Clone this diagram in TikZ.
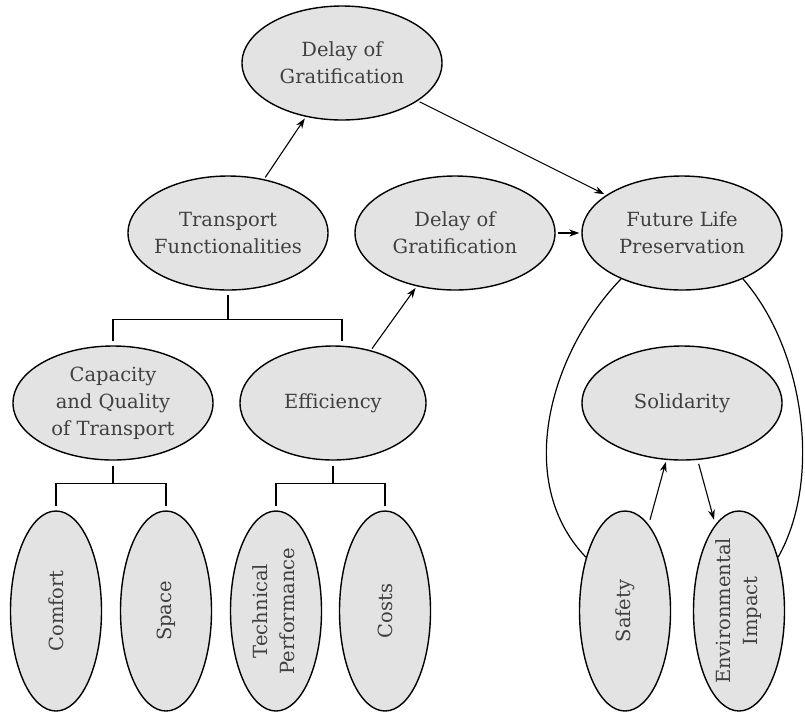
\documentclass[tikz,border=0pt]{standalone}
\usepackage{fontspec}
\setmainfont{DejaVu Serif}
\usetikzlibrary{shapes.geometric,arrows.meta,calc}
\definecolor{elfill}{HTML}{E3E3E3}
\definecolor{txt}{HTML}{404040}
\begin{document}
\begin{tikzpicture}[x=1pt,y=-1pt,
  bigel/.style={ellipse,draw=black,line width=1.4pt,fill=elfill,minimum width=200pt,minimum height=114pt,inner sep=-12pt,align=center,text=txt,font=\fontsize{19.5}{27}\selectfont},
  tallel/.style={bigel,minimum width=91pt,minimum height=200pt},
  arr/.style={-{Stealth[length=10pt,width=7pt]},line width=1.1pt,shorten >=2pt,shorten <=2pt},
  conn/.style={line width=1.2pt}]
\useasboundingbox (0,0) rectangle (805,713);
% top row
\node[bigel] (dg1) at (342,63) {Delay of\\Gratification};
\node[bigel] (tf) at (228,233) {Transport\\Functionalities};
\node[bigel] (dg2) at (455,233) {Delay of\\Gratification};
\node[bigel] (fl) at (682,233) {Future Life\\Preservation};
% middle row
\node[bigel] (cq) at (113,403) {Capacity\\and Quality\\of Transport};
\node[bigel,minimum width=186pt] (ef) at (333,403) {Efficiency};
\node[bigel] (so) at (682,403) {Solidarity};
% bottom row
\node[tallel] (co) at (56,611) {\rotatebox{90}{Comfort}};
\node[tallel] (sp) at (166,611) {\rotatebox{90}{Space}};
\node[tallel] (tp) at (276,611) {\rotatebox{90}{\begin{tabular}{@{}c@{}}Technical\\Performance\end{tabular}}};
\node[tallel] (cs) at (385,611) {\rotatebox{90}{Costs}};
\node[tallel] (sa) at (625,611) {\rotatebox{90}{Safety}};
\node[tallel] (ei) at (739,611) {\rotatebox{90}{\begin{tabular}{@{}c@{}}Environmental\\Impact\end{tabular}}};
% tree connectors
\draw[conn] ([yshift=-4pt]tf.south) -- ++(0,25) coordinate (j1);
\draw[conn] ([yshift=4pt]cq.north) |- (j1) -| ([xshift=9pt,yshift=4pt]ef.north);
\draw[conn] ([yshift=-5pt]cq.south) -- ++(0,18) coordinate (j2);
\draw[conn] ([yshift=4pt]co.north) |- (j2) -| ([yshift=4pt]sp.north);
\draw[conn] ([yshift=-5pt]ef.south) -- ++(0,18) coordinate (j3);
\draw[conn] ([yshift=4pt]tp.north) |- (j3) -| ([yshift=4pt]cs.north);
% arrows
\draw[arr] (tf) -- (dg1);
\draw[arr] (dg1) -- (fl);
\draw[arr] (ef) -- (dg2);
\draw[arr] (dg2) -- (fl);
\draw[arr,shorten <=5pt] (sa) -- (so);
\draw[arr,shorten <=4pt,shorten >=5pt] (so) -- (ei);
% curves
\draw[conn] (fl.217) .. controls (552,350) and (512,480) .. (sa.126);
\draw[conn] (fl.-37) .. controls (805,350) and (822,480) .. (ei.54);
\end{tikzpicture}
\end{document}
